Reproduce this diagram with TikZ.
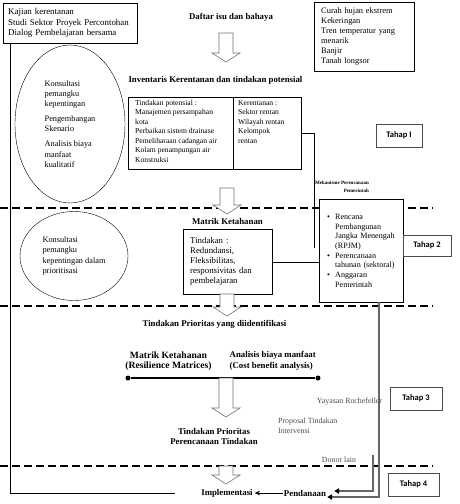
\documentclass[tikz,border=0pt]{standalone}
\usepackage{fontspec}
\setmainfont{Liberation Serif}
\setsansfont{Carlito}
\usetikzlibrary{shapes.geometric,arrows.meta,positioning}

\newcommand{\bulletmark}{\makebox[8pt][l]{\textbullet}}
\newcommand{\bulletgap}{\makebox[8pt]{}}

\begin{document}
\begin{tikzpicture}[x=1pt, y=-1pt,
	box/.style={draw, thin, anchor=north west, inner sep=0pt},
	head/.style={font=\bfseries\fontsize{8.8}{10.5}\selectfont, inner sep=1pt, align=center},
	body/.style={font=\fontsize{8.4}{10}\selectfont, align=left, inner sep=0pt},
	note/.style={font=\fontsize{7.6}{9.5}\selectfont, align=left, inner sep=0pt},
	aside/.style={font=\fontsize{7.9}{9.8}\selectfont, text=black!70, align=left, inner sep=0pt},
	talk/.style={draw, thin, ellipse, inner sep=0pt, font=\fontsize{8.3}{10.4}\selectfont, align=left},
	tahap/.style={draw=black!70, line width=0.8pt, inner sep=0pt, font=\sffamily\bfseries\fontsize{8.5}{10}\selectfont},
	phase/.style={line width=1.4pt, dash pattern=on 7.5pt off 4.5pt},
	fund/.style={draw=black!60, line width=1.3pt, -{Triangle[length=5pt, width=5.5pt, color=black]}},
	dot/.style={circle, fill, inner sep=0pt, minimum size=5pt},
	pics/hollowdown/.style={code={
		\draw[draw=black!55, fill=white, line width=0.6pt] (-7,0) -- (-7,#1-9) -- (-14,#1-9) -- (0,#1) -- (14,#1-9) -- (7,#1-9) -- (7,0) -- cycle;
	}}
]
	\useasboundingbox (0,0) rectangle (459,504);

	% phase dividers
	\draw[phase] (0,208) -- (433,208);
	\draw[phase] (0,306) -- (433,306);
	\draw[phase] (0,466) -- (433,466);

	% Tahap 1
	\node[box, body, font=\fontsize{8.9}{10.5}\selectfont, minimum width=134pt, minimum height=40pt, text width=124pt] (kajian) at (3,3)
		{Kajian kerentanan\\Studi Sektor Proyek Percontohan\\Dialog Pembelajaran bersama};
	\node[head] (daftar) at (231,17) {Daftar isu dan bahaya};
	\node[box, body, minimum width=100pt, minimum height=69pt, text width=86pt] (hazards) at (314,2)
		{Curah hujan ekstrem\\Kekeringan\\Tren temperatur yang\\menarik\\Banjir\\Tanah longsor};
	\pic at (226,33) {hollowdown=29};
	\node[head] (inventaris) at (215.5,80) {Inventaris Kerentanan dan tindakan potensial};
	\node[talk, minimum width=110pt, minimum height=158pt] (konsultasi) at (70,124)
		{Konsultasi\\pemangku\\kepentingan\\[4pt]Pengembangan\\Skenario\\[4.5pt]Analisis biaya\\manfaat\\kualitatif};
	\node[box, minimum width=105pt, minimum height=72pt] (potensial) at (128,97) {};
	\node[box, minimum width=68pt, minimum height=72pt] (kerentanan) at (233,97) {};
	\node[note, anchor=north west] (potensialtext) at ([shift={(7pt,-3pt)}]potensial.north west)
		{Tindakan potensial :\\Manajemen persampahan\\kota\\Perbaikan sistem drainase\\Pemeliharaan cadangan air\\Kolam penampungan air\\Konstruksi};
	\node[note, anchor=north west] (kerentanantext) at ([shift={(5pt,-3pt)}]kerentanan.north west)
		{Kerentanan :\\Sektor rentan\\Wilayah rentan\\Kelompok\\rentan};
	\node[tahap, minimum width=46pt, minimum height=23pt] (tahapI) at (399,135.5) {Tahap I};

	% Tahap 2
	\coordinate (mechline) at (314,248);
	\draw[thin] (kerentanan.east) -| (mechline);
	\node[font=\bfseries\fontsize{5}{8}\selectfont, align=right, inner sep=0pt, anchor=east] (mekanismelabel) at (369,187)
		{Mekanisme Perencanaan\\Pemerintah};
	\node[box, fill=white, font=\fontsize{8.1}{9.7}\selectfont, align=left, minimum width=84pt, minimum height=103pt, text width=68pt] (mekanisme) at (319,199)
		{\bulletmark Rencana\\\bulletgap Pembangunan\\\bulletgap Jangka Menengah\\\bulletgap (RPJM)\\\bulletmark Perencanaan\\\bulletgap tahunan (sektoral)\\\bulletmark Anggaran\\\bulletgap Pemerintah};
	\pic at (227,188) {hollowdown=26};
	\node[head] (matrik) at (227.5,221) {Matrik Ketahanan};
	\node[box, body, font=\fontsize{8.8}{10}\selectfont, minimum width=89pt, minimum height=65pt, text width=75pt] (ketahanan) at (183,229)
		{Tindakan :\\Redundansi,\\Fleksibilitas,\\responsivitas dan\\pembelajaran};
	\draw[thin] (ketahanan.east) -- (ketahanan.east -| mekanisme.west);
	\node[talk, minimum width=108pt, minimum height=89pt] (prioritisasi) at (74,256)
		{Konsultasi\\pemangku\\kepentingan dalam\\prioritisasi};
	\node[tahap, minimum width=48pt, minimum height=21pt] (tahapII) at (427,245.5) {Tahap 2};
	\pic at (227,294) {hollowdown=22};

	% Tahap 3
	\node[head] (identified) at (214.5,324) {Tindakan Prioritas yang diidentifikasi};
	\node[head, font=\bfseries\fontsize{9.6}{10.5}\selectfont] (resmatrix) at (168.5,361) {Matrik Ketahanan\\(Resilience Matrices)};
	\node[head, align=left, anchor=west] (costbenefit) at (228.5,361) {Analisis biaya manfaat\\(Cost benefit analysis)};
	\node[dot] (rmdot) at (128,378) {};
	\node[dot] (cbdot) at (318,378) {};
	\draw[line width=1.3pt] (rmdot) -- (cbdot);
	\pic at (226,378) {hollowdown=39};
	\node[head] (prioritas) at (214,436.5) {Tindakan Prioritas\\Perencanaan Tindakan};
	\node[aside] (yayasan) at (349.5,402) {Yayasan Rochefeller};
	\node[aside, anchor=west] (proposal) at (278,426) {Proposal Tindakan\\Intervensi};
	\node[tahap, minimum width=52pt, minimum height=23pt] (tahapIII) at (416,398.5) {Tahap 3};

	% Tahap 4
	\node[aside] (donor) at (339,460) {Donor lain};
	\pic at (226,466) {hollowdown=18};
	\node[head, inner sep=2pt] (implementasi) at (227,493) {Implementasi};
	\node[head, inner sep=1pt] (pendanaan) at (305,493) {Pendanaan};
	\draw[-{Stealth[length=5pt, width=4.5pt]}, thin] (pendanaan) -- (implementasi);
	\coordinate (fundtop) at (379,302);
	\coordinate (donortop) at (373,455);
	\draw[fund] (donortop) |- ([shift={(7pt,2pt)}]pendanaan.east);
	\draw[fund] (fundtop) |- ([yshift=-4pt]pendanaan.east);
	\node[tahap, minimum width=51pt, minimum height=23pt] (tahapIV) at (413.5,484.5) {Tahap 4};

	% feedback line from the first studies
	\coordinate (leftend) at (175,493);
	\draw[thin] ([xshift=7pt]kajian.south west) |- (leftend);
\end{tikzpicture}
\end{document}
